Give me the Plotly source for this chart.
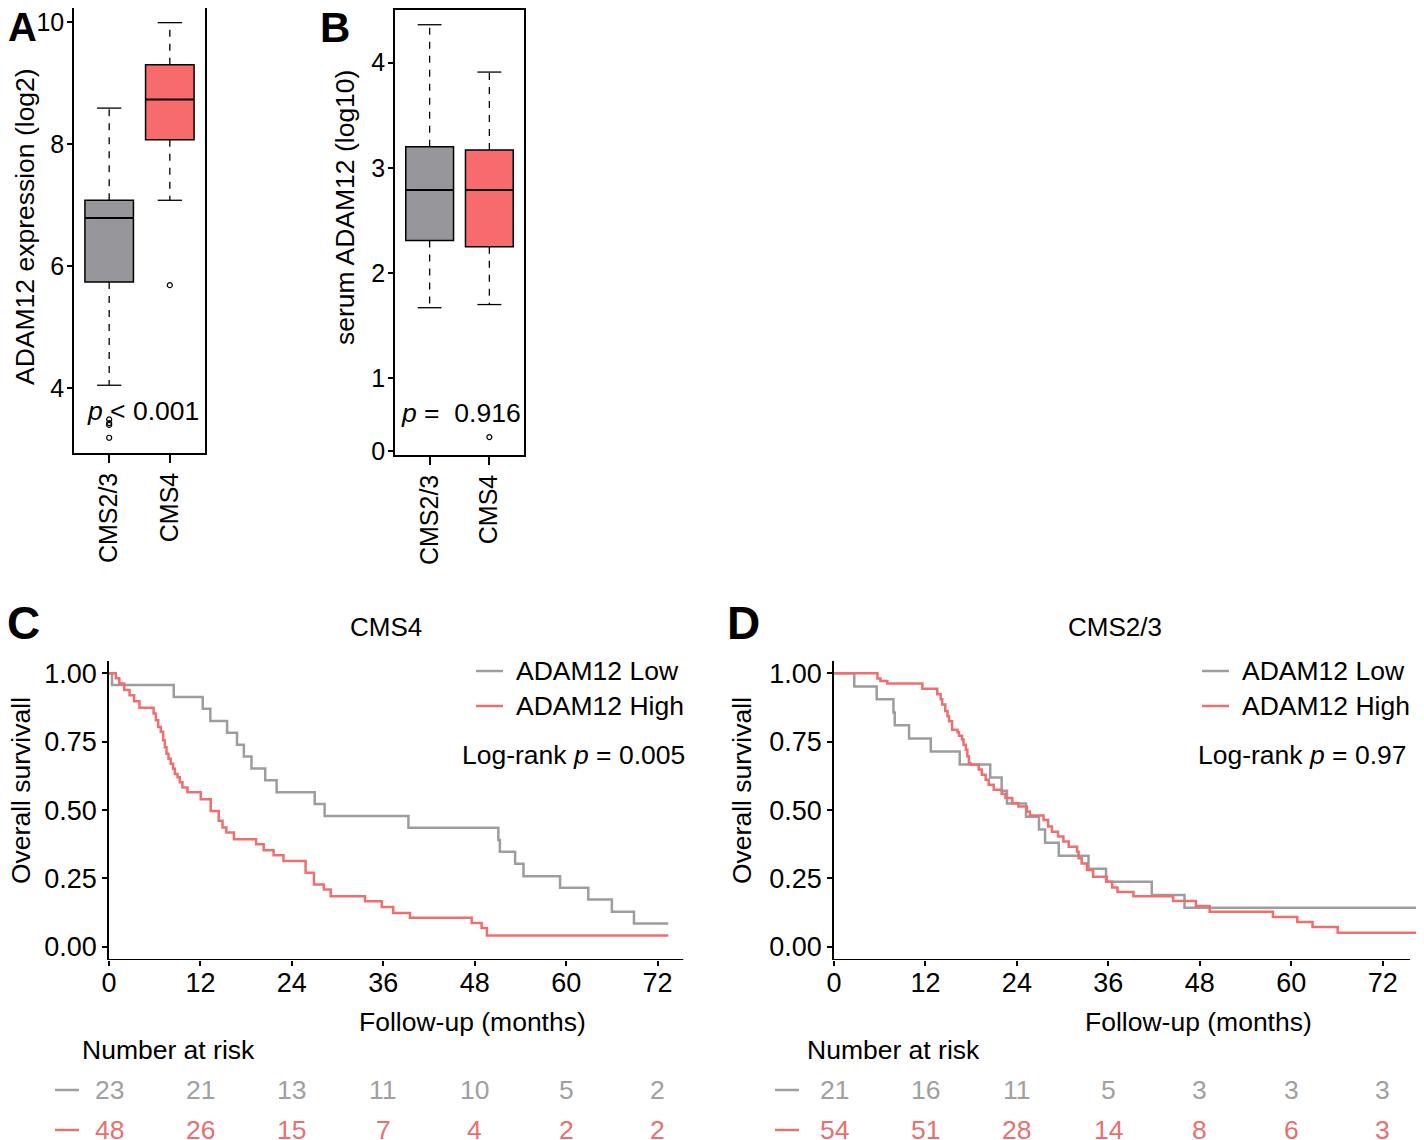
import plotly.graph_objects as go

W, H = 1424, 1140
FONT = "Liberation Sans, Arial, Helvetica, sans-serif"

# ---- box plot data ----
groups = ["CMS2/3", "CMS4"]

# A: ADAM12 expression (log2)
a_lower = [4.05, 7.08]
a_q1 = [5.74, 8.07]
a_median = [6.79, 8.73]
a_q3 = [7.08, 9.30]
a_upper = [8.59, 9.99]
a_outliers = [[3.49, 3.43, 3.40, 3.19], [5.69]]

# B: serum ADAM12 (log10)
b_lower = [1.67, 1.70]
b_q1 = [2.31, 2.25]
b_median = [2.79, 2.79]
b_q3 = [3.20, 3.17]
b_upper = [4.36, 3.91]
b_outliers = [[], [0.44]]

# ---- Kaplan-Meier data (event times in months, survival after each step) ----
c_low_t = [0.4, 8.5, 12.3, 13.3, 15.5, 16.8, 17.7, 18.7, 20.5, 22.0, 27.0, 28.3, 39.3,
           51.1, 51.3, 53.3, 54.4, 59.2, 62.9, 66.0, 68.9]
c_low_s = [0.957, 0.913, 0.870, 0.826, 0.783, 0.739, 0.696, 0.652, 0.609, 0.565, 0.522,
           0.478, 0.435, 0.391, 0.348, 0.304, 0.258, 0.216, 0.173, 0.128, 0.085]
c_high_t = [0.9, 1.35, 2.0, 2.7, 3.3, 4.0, 5.85, 6.15, 6.46, 6.8, 7.1, 7.33, 7.55, 7.81,
            8.1, 8.42, 8.64, 8.99, 9.29, 9.64, 10.3, 12.04, 13.35, 14.4, 14.9, 15.4,
            16.4, 19.3, 20.3, 21.6, 22.9, 25.8, 26.9, 28.2, 29.1, 33.6, 35.8, 37.3,
            39.5, 47.6, 48.9, 49.6]
c_high_s = [0.982, 0.963, 0.939, 0.920, 0.898, 0.874, 0.853, 0.828, 0.804, 0.786, 0.755,
            0.730, 0.706, 0.688, 0.669, 0.651, 0.632, 0.620, 0.602, 0.583, 0.565, 0.540,
            0.497, 0.461, 0.436, 0.418, 0.393, 0.375, 0.353, 0.335, 0.314, 0.271, 0.228,
            0.210, 0.185, 0.167, 0.146, 0.124, 0.106, 0.087, 0.069, 0.042]
c_end = 73.4

d_low_t = [2.66, 5.6, 7.8, 7.97, 9.85, 12.7, 16.5, 20.5, 22.0, 22.7, 25.2, 26.9, 27.7,
           29.5, 33.4, 35.7, 41.7, 46.0]
d_low_s = [0.952, 0.905, 0.857, 0.810, 0.762, 0.714, 0.667, 0.619, 0.571, 0.524, 0.476,
           0.429, 0.381, 0.333, 0.286, 0.238, 0.190, 0.143]
d_high_t = [5.7, 6.1, 7.0, 11.6, 13.55, 14.0, 14.2, 14.6, 14.9, 15.1, 15.5, 16.2, 16.4,
            16.8, 17.0, 17.3, 17.5, 17.7, 17.9, 19.0, 19.4, 19.9, 20.3, 20.96, 22.0, 22.5,
            23.4, 24.2, 25.3, 25.7, 27.5, 28.1, 28.6, 29.4, 30.1, 30.8, 31.9, 32.1, 32.5,
            33.2, 34.0, 35.8, 36.5, 37.2, 39.3, 44.5, 47.5, 49.3, 57.6, 60.8, 62.8, 66.1]
d_high_s = [0.981, 0.972, 0.963, 0.944, 0.923, 0.905, 0.886, 0.862, 0.843, 0.825, 0.794,
            0.785, 0.772, 0.758, 0.739, 0.721, 0.697, 0.672, 0.666, 0.648, 0.629, 0.611,
            0.593, 0.574, 0.560, 0.544, 0.525, 0.513, 0.495, 0.480, 0.464, 0.440, 0.421,
            0.403, 0.385, 0.366, 0.348, 0.324, 0.305, 0.281, 0.256, 0.238, 0.217, 0.201,
            0.185, 0.168, 0.149, 0.128, 0.109, 0.091, 0.073, 0.052]
d_end = 76.5

risk_times = [0, 12, 24, 36, 48, 60, 72]
c_risk_low = [23, 21, 13, 11, 10, 5, 2]
c_risk_high = [48, 26, 15, 7, 4, 2, 2]
d_risk_low = [21, 16, 11, 5, 3, 3, 3]
d_risk_high = [54, 51, 28, 14, 8, 6, 3]

BOX_GRAY = "#97979b"
BOX_RED = "#f86b6c"
KM_GRAY = "#9d9da0"
KM_RED = "#ef6f6f"
TXT_GRAY = "#a0a0a0"
TXT_RED = "#e9706e"

# the page puts the plot 8 px in from the top-left corner
DX, DY = 8, 8


def px(x):
    return (x - DX) / W


def py(y):
    return 1 - (y - DY) / H


def dom(a, b):
    return [max(0.0, min(1.0, a)), max(0.0, min(1.0, b))]


fig = go.Figure()


def add_boxplot(xa, ya, lower, q1, med, q3, upper, outliers):
    fills = [BOX_GRAY, BOX_RED]
    for i in range(len(groups)):
        pos = i + 1
        fig.add_trace(go.Bar(x=[pos], y=[q3[i] - q1[i]], base=[q1[i]], width=0.8,
                             marker=dict(color=fills[i], line=dict(color="black", width=1.5)),
                             xaxis=xa, yaxis=ya, showlegend=False))
        fig.add_trace(go.Scatter(x=[pos - 0.4, pos + 0.4], y=[med[i], med[i]], mode="lines",
                                 line=dict(color="black", width=2), xaxis=xa, yaxis=ya,
                                 showlegend=False))
        for a, b in [(q3[i], upper[i]), (q1[i], lower[i])]:
            fig.add_trace(go.Scatter(x=[pos, pos], y=[a, b], mode="lines",
                                     line=dict(color="black", width=1.3, dash="7px,7px"),
                                     xaxis=xa, yaxis=ya, showlegend=False))
            fig.add_trace(go.Scatter(x=[pos - 0.2, pos + 0.2], y=[b, b], mode="lines",
                                     line=dict(color="black", width=1.3),
                                     xaxis=xa, yaxis=ya, showlegend=False))
        if outliers[i]:
            fig.add_trace(go.Scatter(x=[pos] * len(outliers[i]), y=outliers[i], mode="markers",
                                     marker=dict(symbol="circle-open", size=5, color="black",
                                                 line=dict(width=1.2)),
                                     xaxis=xa, yaxis=ya, showlegend=False))


add_boxplot("x", "y", a_lower, a_q1, a_median, a_q3, a_upper, a_outliers)
add_boxplot("x2", "y2", b_lower, b_q1, b_median, b_q3, b_upper, b_outliers)


def km_xy(times, surv, end):
    return [0] + times + [end], [1.0] + surv + [surv[-1]]


for xa, ya, data in [("x3", "y3", [(c_low_t, c_low_s, c_end, KM_GRAY), (c_high_t, c_high_s, c_end, KM_RED)]),
                     ("x4", "y4", [(d_low_t, d_low_s, d_end, KM_GRAY), (d_high_t, d_high_s, d_end, KM_RED)])]:
    for t, s, end, col in data:
        xs, ys = km_xy(t, s, end)
        fig.add_trace(go.Scatter(x=xs, y=ys, mode="lines", line=dict(color=col, width=2.5, shape="hv"),
                                 xaxis=xa, yaxis=ya, showlegend=False))

box_x = dict(range=[0.42, 2.58], tickvals=[1, 2], ticktext=groups, tickangle=-90,
             ticks="outside", ticklen=8, tickwidth=1.5, tickcolor="black",
             showline=True, linecolor="black", linewidth=1.5, mirror=True,
             showgrid=False, zeroline=False, tickfont=dict(family=FONT, size=25, color="black"))
box_y = dict(ticks="outside", ticklen=5, tickwidth=1.5, tickcolor="black", ticklabelstandoff=-2,
             ticklabeloverflow="allow",
             showline=True, linecolor="black", linewidth=1.5, mirror=True,
             showgrid=False, zeroline=False, tickfont=dict(family=FONT, size=25, color="black"))
km_tickfont = dict(family=FONT, size=27, color="black")
km_x = dict(tickvals=risk_times, ticks="outside", ticklen=5, tickwidth=1.5, tickcolor="black",
            ticklabelstandoff=-6,
            showline=False, showgrid=False, zeroline=False, tickfont=km_tickfont)
km_y = dict(range=[-0.048, 1.045], tickvals=[0, 0.25, 0.5, 0.75, 1.0],
            ticktext=["0.00", "0.25", "0.50", "0.75", "1.00"],
            ticks="outside", ticklen=5, tickwidth=1.5, tickcolor="black",
            showline=True, linecolor="black", linewidth=1.8, showgrid=False, zeroline=False,
            tickfont=km_tickfont)

fig.update_layout(
    width=W, height=H, margin=dict(l=0, r=0, t=0, b=0),
    paper_bgcolor="white", plot_bgcolor="white", showlegend=False,
    font=dict(family=FONT, color="black"),
    xaxis=dict(box_x, domain=dom(px(74), px(205)), anchor="y", automargin=False),
    yaxis=dict(box_y, domain=dom(py(453), py(8)), range=[2.94, 10.23], tickvals=[4, 6, 8, 10],
               anchor="x", automargin=False),
    xaxis2=dict(box_x, domain=dom(px(395), px(524)), anchor="y2", automargin=False),
    yaxis2=dict(box_y, domain=dom(py(455), py(10)), range=[0.27, 4.50],
                tickvals=[0.31, 1, 2, 3, 4], ticktext=["0", "1", "2", "3", "4"], anchor="x2",
                automargin=False),
    xaxis3=dict(km_x, domain=dom(px(109), px(683.5)), range=[0, 75.4], anchor="y3", automargin=False),
    yaxis3=dict(km_y, domain=dom(py(960), py(661)), anchor="x3", automargin=False),
    xaxis4=dict(km_x, domain=dom(px(834), px(1417.7)), range=[0, 76.6], anchor="y4", automargin=False),
    yaxis4=dict(km_y, domain=dom(py(960), py(661)), anchor="x4", automargin=False),
)

shapes = []
# KM x axis lines
for xr, yr, xmax in [("x3", "y3", 75.4), ("x4", "y4", 75.6)]:
    shapes.append(dict(type="line", xref=xr, yref=yr, x0=0, x1=xmax, y0=-0.048, y1=-0.048,
                       line=dict(color="black", width=1.8)))

ann = []


def text(x, y, s, size=26, color="black", xanchor="center", angle=0, bold=False, xref="paper"):
    if bold:
        s = "<b>" + s + "</b>"
    ann.append(dict(x=x if xref != "paper" else px(x), y=py(y), xref=xref, yref="paper", text=s,
                    showarrow=False, xanchor=xanchor, yanchor="middle", textangle=angle,
                    font=dict(family=FONT, size=size, color=color)))


# panel letters
text(6, 27, "A", 40, xanchor="left", bold=True)
text(318, 27, "B", 42, xanchor="left", bold=True)
text(5, 623, "C", 46, xanchor="left", bold=True)
text(725, 623, "D", 46, xanchor="left", bold=True)

# box panels
text(25, 227, "ADAM12 expression (log2)", 26.5, angle=-90)
text(345, 208, "serum ADAM12 (log10)", 26.5, angle=-90)
ann.append(dict(x=1.55, y=3.62, xref="x", yref="y", text="<i>p</i> < 0.001", showarrow=False,
                font=dict(family=FONT, size=26.5, color="black")))
ann.append(dict(x=1.52, y=0.67, xref="x2", yref="y2", text="<i>p</i> =\u00a0 0.916", showarrow=False,
                font=dict(family=FONT, size=26.5, color="black")))

# KM panels
for left, title, pval, xr, risk_low, risk_high in [
        (True, "CMS4", "0.005", "x3", c_risk_low, c_risk_high),
        (False, "CMS2/3", "0.97", "x4", d_risk_low, d_risk_high)]:
    text(386 if left else 1115, 627, title, 26)
    text(21 if left else 742, 791, "Overall survivall", 26.5, angle=-90)
    text(472 if left else 1198, 1022, "Follow-up (months)", 26.5)
    text(80 if left else 805, 1050, "Number at risk", 26.5, xanchor="left")
    lx = 476 if left else 1202
    for yy, col, lab in [(671, KM_GRAY, "ADAM12 Low"), (706, KM_RED, "ADAM12 High")]:
        shapes.append(dict(type="line", xref="paper", yref="paper", x0=px(lx), x1=px(lx + 27),
                           y0=py(yy), y1=py(yy), line=dict(color=col, width=2.5)))
        text(lx + 38, yy, lab, 26.5, xanchor="left")
    text(687 if left else 1408, 755, "Log-rank <i>p</i> = " + pval, 26.5, xanchor="right")
    dx = 55 if left else 775
    for yy, col, vals in [(1090, TXT_GRAY, risk_low), (1130, TXT_RED, risk_high)]:
        shapes.append(dict(type="line", xref="paper", yref="paper", x0=px(dx), x1=px(dx + 24),
                           y0=py(yy), y1=py(yy), line=dict(color=col, width=2.5)))
        for t, v in zip(risk_times, vals):
            text(t, yy, str(v), 26.5, color=col, xref=xr)

fig.update_layout(shapes=shapes, annotations=ann)
fig.write_html("out.html")
